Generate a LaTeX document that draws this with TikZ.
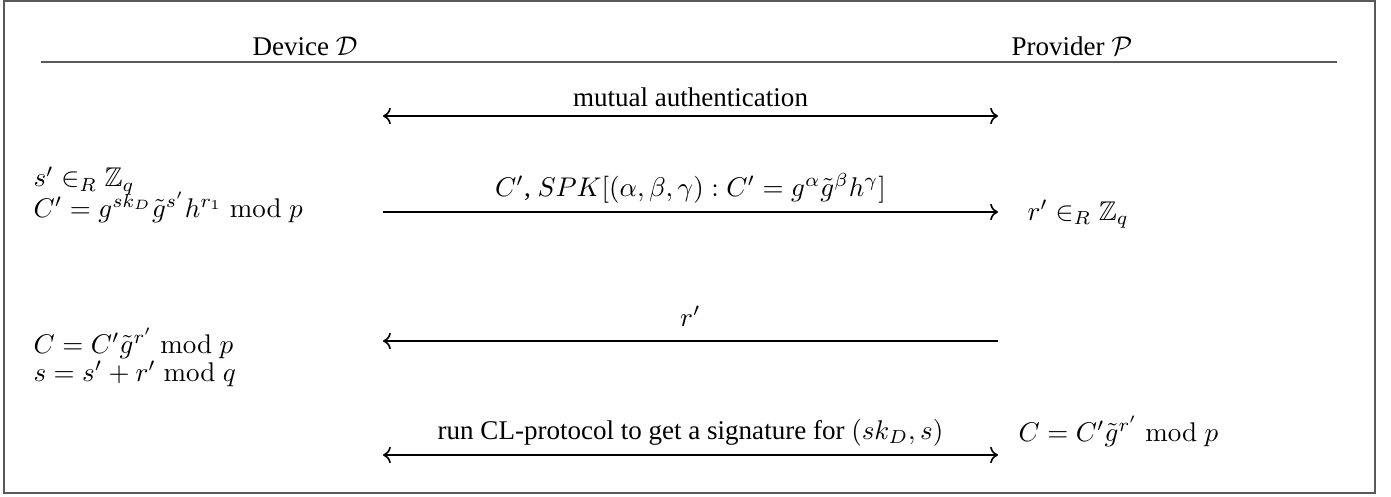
\documentclass[tikz,border=0pt]{standalone}
\usepackage{amsmath,amssymb}
\usepackage[no-math]{fontspec}
\setmainfont{Liberation Serif}
\usetikzlibrary{arrows.meta,positioning}
\tikzset{
  frm/.style   ={draw=black!65, line width=0.55pt},
  party/.style ={anchor=base, inner sep=0pt},
  calc/.style  ={anchor=base west, inner sep=0pt},
  side/.style  ={anchor=west, inner sep=0pt},
  lbl/.style   ={above, inner sep=3pt},
  msg/.style   ={draw=black, semithick},
}

\begin{document}
\begin{tikzpicture}[x=0.37pt, y=-0.37pt]
\useasboundingbox (0,0) rectangle (1391,497);
\draw[frm] (4,1) rectangle (1375,493);

% ---- parties ----
\node[party] (dev)  at (305,56)  {Device $\mathcal{D}$};
\node[party] (prov) at (1072,56) {Provider $\mathcal{P}$};
\draw[frm] (41,62) -- (1337,62);

% ---- arrow ends ----
\coordinate (m1l) at (383,116);  \coordinate (m1r) at (998,116);
\coordinate (m2l) at (383,212);  \coordinate (m2r) at (998,212);
\coordinate (m3l) at (383,341);  \coordinate (m3r) at (998,341);
\coordinate (m4l) at (383,455);  \coordinate (m4r) at (998,455);

% ---- device side ----
\node[calc] (s1) at (33,187) {$s' \in_R \mathbb{Z}_q$};
\node[calc] (c1) at (33,217) {$C' = g^{sk_D}\tilde{g}^{s'}h^{r_1} \bmod p$};
\node[calc] (c2) at (33,353) {$C = C'\tilde{g}^{r'} \bmod p$};
\node[calc] (s2) at (33,381) {$s = s' + r' \bmod q$};

% ---- provider side ----
\node[side] (rz) at (1027,214) {$r' \in_R \mathbb{Z}_q$};
\node[side] (cp) at (1018,431) {$C = C'\tilde{g}^{r'} \bmod p$};

% ---- messages ----
\draw[msg, <->] (m1l) -- node[lbl] (auth) {mutual authentication} (m1r);
\draw[msg, ->] (m2l) -- node[lbl] (spk)
  {$C'$, $SPK[(\alpha,\beta,\gamma) : C' = g^{\alpha}\tilde{g}^{\beta}h^{\gamma}]$} (m2r);
\draw[msg, ->] (m3r) -- node[lbl, inner sep=5pt] (rr) {$r'$} (m3l);
\draw[msg, <->] (m4l) -- node[lbl] (cl)
  {run CL-protocol to get a signature for $(sk_D, s)$} (m4r);

\end{tikzpicture}
\end{document}
